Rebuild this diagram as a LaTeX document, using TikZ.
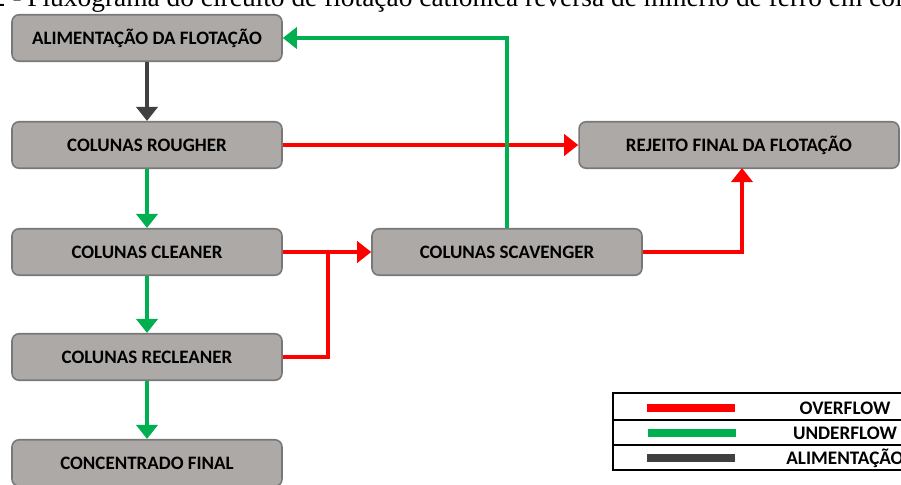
\documentclass[tikz,border=0pt]{standalone}
\usepackage{fontspec}
\setmainfont{Carlito}
\newfontfamily\capfont{Liberation Serif}
\usetikzlibrary{arrows.meta,positioning}
\definecolor{boxgray}{RGB}{173,169,167}
\definecolor{edgegray}{RGB}{120,120,120}
\definecolor{ofred}{RGB}{255,0,0}
\definecolor{ufgreen}{RGB}{0,176,80}
\definecolor{feedgray}{RGB}{64,64,64}

\begin{document}
\begin{tikzpicture}[x=0.02cm,y=-0.02cm,
    stage/.style={draw=edgegray,line width=0.9pt,fill=boxgray,rounded corners=4pt,
      minimum height=0.93cm,inner sep=0pt,font=\fontsize{10.8}{12}\selectfont\bfseries},
    legtext/.style={font=\fontsize{10.9}{12}\selectfont\bfseries},
    flow/.style={line width=2.8pt,-{Triangle[length=8pt,width=12pt]}},
    over/.style={flow,ofred},
    under/.style={flow,ufgreen},
    feed/.style={flow,feedgray}]
    \useasboundingbox (0,0) rectangle (901,484);
    \clip (0,0) rectangle (901,484);
    % caption, cut off at the top
    \node[anchor=base west,inner sep=0pt,font=\capfont\fontsize{15.6}{17}\selectfont] (cap) at (27,6)
      {Fluxograma do circuito de flotação catiônica reversa de minério de ferro em colunas};
    \node[anchor=base east,inner sep=0pt,font=\capfont\fontsize{15.6}{17}\selectfont] (capnum) at (22,6) {Figura 3.2 -};
    % stages
    \node[stage,minimum width=5.4cm] (alim) at (147,38) {ALIMENTAÇÃO DA FLOTAÇÃO};
    \node[stage,minimum width=5.4cm] (rougher) at (147,145) {COLUNAS ROUGHER};
    \node[stage,minimum width=5.4cm] (cleaner) at (147,252) {COLUNAS CLEANER};
    \node[stage,minimum width=5.4cm] (recleaner) at (147,357) {COLUNAS RECLEANER};
    \node[stage,minimum width=5.4cm] (conc) at (147,463) {CONCENTRADO FINAL};
    \node[stage,minimum width=5.4cm] (scav) at (507,252) {COLUNAS SCAVENGER};
    \node[stage,minimum width=6.4cm] (rejeito) at (739,145) {REJEITO FINAL DA FLOTAÇÃO};
    \coordinate (join) at (328,252);
    \coordinate (rejin) at (742,168);
    % connectors
    \draw[feed] (alim) -- (rougher);
    \draw[under] (rougher) -- (cleaner);
    \draw[under] (cleaner) -- (recleaner);
    \draw[under] (recleaner) -- (conc);
    \draw[over] (rougher) -- (rejeito);
    \draw[over] (cleaner) -- (scav);
    \draw[ofred,line width=2.8pt] (recleaner.east) -| (join);
    \draw[over] (scav.east) -| (rejin);
    \draw[under] (scav.north) |- (alim.east);
    % legend
    \draw[line width=1.2pt] (613,393) rectangle (920,470);
    \draw[line width=1.2pt] (613,420) -- (920,420) (613,445) -- (920,445);
    \draw[ofred,line width=4pt] (647,408) -- (735,408);
    \draw[ufgreen,line width=4pt] (648,433) -- (736,433);
    \draw[feedgray,line width=4pt] (647,458) -- (735,458);
    \node[legtext] (lgover) at (845,408) {OVERFLOW};
    \node[legtext] (lgunder) at (845,433) {UNDERFLOW};
    \node[legtext] (lgfeed) at (845,458) {ALIMENTAÇÃO};
\end{tikzpicture}
\end{document}
